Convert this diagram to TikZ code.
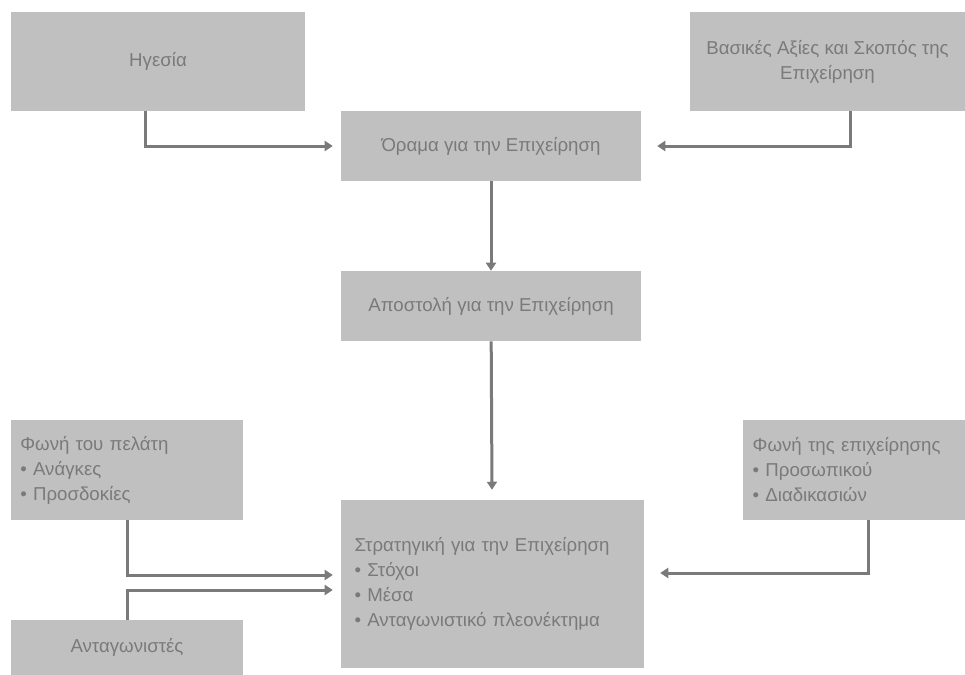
\documentclass[tikz,border=0pt]{standalone}
\usepackage{fontspec}
\setmainfont{Liberation Sans}
\usetikzlibrary{arrows.meta}
\definecolor{boxgray}{HTML}{C0C0C0}
\definecolor{inkgray}{HTML}{7A7A7A}
\begin{document}
\begin{tikzpicture}[x=0.75pt, y=-0.75pt,
    every node/.style={font=\fontsize{14}{18.75}\selectfont, text=inkgray},
    block/.style={fill=boxgray, inner sep=0pt, align=center},
    listblock/.style={fill=boxgray, inner sep=0pt, align=left},
    link/.style={draw=inkgray, line width=2.25pt, -{Triangle[length=6pt,width=7.5pt]}}]
      \useasboundingbox (0, 0) rectangle (965, 675);

      % top row
      \node[block, minimum width=220.5pt, minimum height=74.25pt] (lead) at (158, 61.5) {Ηγεσία};
      \node[block, minimum width=206.25pt, minimum height=74.25pt] (values) at (827.5, 61.5) {Βασικές Αξίες και Σκοπός της\\Επιχείρηση};

      % centre column
      \node[block, minimum width=225pt, minimum height=52.5pt] (vision) at (491, 146) {Όραμα για την Επιχείρηση};
      \node[block, minimum width=225pt, minimum height=52.5pt] (mission) at (491, 306) {Αποστολή για την Επιχείρηση};
      \node[listblock, minimum width=227.25pt, minimum height=126pt, text width=207pt] (strategy) at (492.5, 584)
        {Στρατηγική για την Επιχείρηση\\• Στόχοι\\• Μέσα\\• Ανταγωνιστικό πλεονέκτημα};

      % side boxes
      \node[listblock, minimum width=174pt, minimum height=75pt, text width=160pt] (customer) at (127, 470)
        {Φωνή του πελάτη\\• Ανάγκες\\• Προσδοκίες};
      \node[listblock, minimum width=166.5pt, minimum height=75pt, text width=152pt] (company) at (854, 470)
        {Φωνή της επιχείρησης\\• Προσωπικού\\• Διαδικασιών};
      \node[block, minimum width=174pt, minimum height=41.25pt] (rivals) at (127, 647.5) {Ανταγωνιστές};

      % arrows
      \draw[link, shorten >=6pt] ([xshift=-9.75pt]lead.south) |- (vision.west);
      \draw[link, shorten >=12pt] ([xshift=17.6pt]values.south) |- (vision.east);
      \draw[link] (vision) -- (mission);
      \draw[link, shorten >=7.5pt] (mission) -- (strategy);
      \draw[link, shorten >=6pt] (customer.south) |- ([yshift=6.75pt]strategy.west);
      \draw[link, shorten >=6pt] (rivals.north) |- ([yshift=-4.5pt]strategy.west);
      \draw[link, shorten >=12pt] ([xshift=10.5pt]company.south) |- ([yshift=8.25pt]strategy.east);
    \end{tikzpicture}
\end{document}
